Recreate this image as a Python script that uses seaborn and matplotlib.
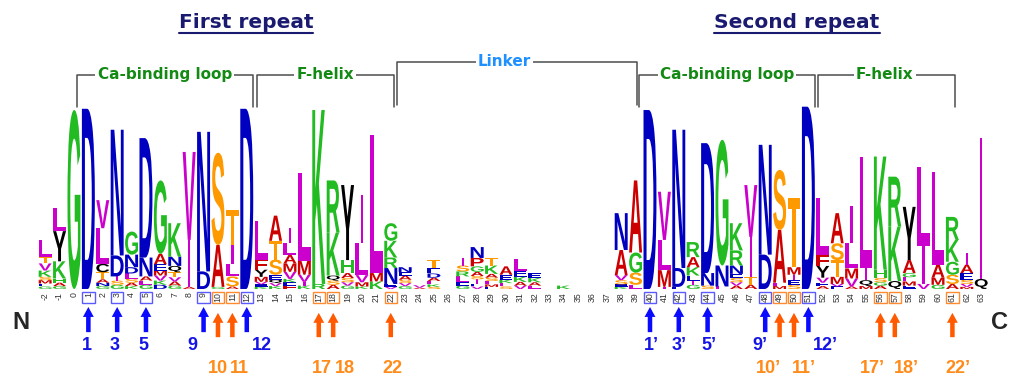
import matplotlib
matplotlib.use('Agg')
import matplotlib.pyplot as plt
import seaborn as sns
from matplotlib.textpath import TextPath
from matplotlib.patches import PathPatch, Rectangle
from matplotlib.font_manager import FontProperties
from matplotlib.transforms import Affine2D, IdentityTransform
from matplotlib.lines import Line2D

# sequence positions on the x axis
positions = list(range(-2, 64))

# letter stacks per position, top to bottom, heights in bits
first_stacks = [
    [('L', .40), ('T', .15), ('V', .17), ('K', .15), ('S', .08), ('M', .08), ('E', .07), ('G', .06)],
    [('L', .55), ('Y', .72), ('K', .41), ('H', .10), ('A', .08), ('G', .07)],
    [('G', 4.27)],
    [('D', 4.30)],
    [('V', .67), ('L', .85), ('C', .20), ('T', .17), ('A', .08), ('N', .08), ('G', .07)],
    [('N', 3.00), ('D', .50), ('I', .10), ('S', .10), ('G', .10)],
    [('G', .55), ('N', .30), ('D', .15), ('L', .12), ('S', .10), ('A', .08), ('K', .07)],
    [('D', 2.85), ('N', .45), ('A', .10), ('L', .10), ('G', .10)],
    [('G', 1.75), ('A', .25), ('E', .15), ('M', .12), ('V', .12), ('K', .10), ('D', .10)],
    [('K', .80), ('N', .22), ('Q', .15), ('T', .12), ('V', .10), ('A', .10), ('G', .08)],
    [('V', 2.10), ('I', 1.12), ('A', .05)],
    [('N', 3.33), ('D', .42)],
    [('S', 2.20), ('A', 1.00), ('G', .05)],
    [('T', .84), ('I', .45), ('L', .29), ('S', .24), ('A', .06)],
    [('D', 4.30)],
    [('L', .92), ('F', .24), ('Y', .17), ('M', .12), ('V', .06), ('E', .06), ('K', .05)],
    [('A', .60), ('T', .45), ('S', .36), ('E', .12), ('Q', .08), ('V', .07), ('K', .07)],
    [('I', .36), ('L', .28), ('A', .20), ('M', .20), ('V', .17), ('K', .08), ('E', .08), ('F', .08)],
    [('L', 2.10), ('M', .33), ('V', .17), ('I', .09), ('K', .08)],
    [('K', 4.15), ('R', .12)],
    [('R', 1.24), ('K', 1.03), ('Q', .12), ('S', .10), ('A', .10)],
    [('Y', 1.79), ('H', .31), ('A', .12), ('S', .10), ('V', .08), ('G', .08)],
    [('I', 1.15), ('L', .76), ('V', .17), ('M', .10), ('K', .06)],
    [('L', 3.30), ('M', .20), ('K', .18)],
    [('G', .42), ('K', .40), ('R', .25), ('N', .38), ('E', .07), ('V', .05)],
]
linker_stacks = [
    [('N', .12), ('E', .08), ('A', .10), ('S', .08), ('V', .07), ('G', .07)],
    [('V', .06), ('A', .03)],
    [('T', .20), ('E', .12), ('D', .10), ('A', .08), ('L', .08), ('K', .06), ('S', .05)],
    [],
    [('I', .18), ('S', .14), ('R', .12), ('L', .14), ('E', .08), ('G', .08)],
    [('N', .26), ('P', .20), ('G', .13), ('A', .10), ('S', .08), ('I', .10), ('E', .07), ('V', .06)],
    [('T', .18), ('K', .20), ('A', .09), ('S', .08), ('L', .08), ('M', .06), ('E', .05)],
    [('A', .20), ('E', .12), ('K', .08), ('L', .08), ('S', .06)],
    [('L', .28), ('E', .14), ('K', .12), ('A', .09), ('V', .08)],
    [('E', .12), ('K', .10), ('A', .08), ('L', .08)],
    [],
    [('K', .08)],
    [], [], [],
    [('N', .88), ('A', .60), ('V', .12), ('S', .10), ('E', .06), ('K', .05)],
    [('A', 1.72), ('G', .48), ('S', .29), ('L', .10)],
]
second_stacks = [
    [('D', 4.27)],
    [('V', 1.15), ('L', .72), ('M', .40), ('I', .05)],
    [('N', 3.30), ('D', .45), ('E', .05)],
    [('R', .36), ('A', .24), ('K', .20), ('E', .12), ('I', .10), ('G', .10)],
    [('D', 3.10), ('N', .30), ('S', .08)],
    [('G', 3.00), ('N', .50), ('L', .06)],
    [('K', .65), ('R', .36), ('N', .20), ('E', .10), ('S', .10), ('V', .08), ('A', .08)],
    [('V', 1.24), ('I', .95), ('T', .19), ('A', .10)],
    [('N', 2.62), ('D', .82)],
    [('S', 1.43), ('A', 1.26), ('L', .08), ('M', .07)],
    [('T', 1.65), ('M', .18), ('I', .12), ('E', .12), ('S', .10)],
    [('D', 4.35)],
    [('L', 1.36), ('F', .26), ('Y', .28), ('V', .12), ('E', .08), ('A', .07)],
    [('A', .72), ('S', .40), ('T', .40), ('M', .17), ('V', .06), ('E', .06)],
    [('I', .88), ('L', .60), ('M', .24), ('V', .19), ('A', .06)],
    [('L', 2.67), ('I', .28), ('Q', .14), ('M', .07)],
    [('K', 2.70), ('H', .20), ('S', .10), ('G', .08), ('A', .08)],
    [('R', 1.19), ('K', 1.30), ('Q', .19)],
    [('Y', 1.27), ('A', .31), ('G', .10), ('L', .10), ('M', .10), ('E', .08)],
    [('L', 1.90), ('I', .90), ('V', .12)],
    [('L', 2.22), ('A', .31), ('M', .17), ('G', .10)],
    [('R', .55), ('K', .52), ('G', .31), ('S', .22), ('A', .12)],
    [('I', .28), ('A', .20), ('E', .16), ('S', .10), ('V', .07), ('M', .05)],
    [('I', 3.36), ('Q', .24)],
]
stacks = first_stacks + linker_stacks + second_stacks

# highlighted residues
blue_sites = [1, 3, 5, 9, 12, 40, 42, 44, 48, 51]
blue_labels = ['1', '3', '5', '9', '12', '1\u2019', '3\u2019', '5\u2019', '9\u2019', '12\u2019']
orange_sites = [10, 11, 17, 18, 22, 49, 50, 56, 57, 61]
orange_labels = ['10', '11', '17', '18', '22', '10\u2019', '11\u2019', '17\u2019', '18\u2019', '22\u2019']

# annotated regions (position units)
region_names = ['Ca-binding loop', 'F-helix', 'Linker', 'Ca-binding loop', 'F-helix']
region_start = [0.2, 12.7, 22.45, 39.25, 51.7]
region_end = [12.45, 22.2, 39.1, 51.45, 61.2]
region_label_x = [6.3, 17.45, 29.9, 45.35, 56.3]

colors = {}
for aa in 'GKRH':
    colors[aa] = '#22bb22'
for aa in 'DNE':
    colors[aa] = '#0000c0'
for aa in 'LVI':
    colors[aa] = '#cc00cc'
for aa in 'AFMPW':
    colors[aa] = '#cc0000'
for aa in 'ST':
    colors[aa] = '#ff9900'
for aa in 'YCQ':
    colors[aa] = '#000000'

sns.set_style('white')
plt.rcParams['font.family'] = ['Liberation Sans', 'DejaVu Sans']

fig = plt.figure(figsize=(10.15, 3.82), dpi=100)
ax = fig.add_axes([0.0374, 0.2435, 0.9364, 0.4827])
ax.set_xlim(-2.5, 63.5)
ax.set_ylim(0, 4.4)

logo_font = FontProperties(family='Liberation Sans', weight='bold')
glyphs = {}


def draw_letter(letter, x, y0, h):
    if letter not in glyphs:
        glyphs[letter] = TextPath((0, 0), letter, size=1, prop=logo_font)
    path = glyphs[letter]
    ext = path.get_extents()
    w = 0.16 if letter == 'I' else 0.9
    tr = (Affine2D().translate(-ext.x0, -ext.y0)
          .scale(w / ext.width, h / ext.height)
          .translate(x - w / 2, y0))
    ax.add_patch(PathPatch(tr.transform_path(path), fc=colors[letter], ec='none', lw=0))


for p, stack in zip(positions, stacks):
    y = 0
    for letter, h in reversed(stack):
        draw_letter(letter, p, y, h)
        y += h

ax.set_xticks(positions)
ax.set_xticklabels([str(p) for p in positions], rotation=90, fontsize=6.3, color='#333333')
ax.tick_params(axis='x', length=0, pad=2.2)
ax.set_yticks([])
sns.despine(ax=ax, left=True, bottom=True)

# boxes, arrows and numbers under the key residues
blue, orange = '#0a0aff', '#ff5a00'
num_blue, num_orange = '#1414e6', '#ff8c1a'
blue_off = [-0.1, -0.15, -0.15, -0.75, 1.05, 0.1, 0.05, 0.1, -0.35, 1.2]
orange_off = [0.0, 0.5, 0.2, 0.8, 0.1, -0.8, 0.7, -0.55, 0.8, 0.4]

for sites, labels, offs, c_box, c_arrow, c_num, y_tip, y_tail, y_num in [
        (blue_sites, blue_labels, blue_off, '#5a5aff', blue, num_blue, -0.43, -1.03, -1.36),
        (orange_sites, orange_labels, orange_off, '#ff8a30', orange, num_orange, -0.57, -1.15, -1.9)]:
    for p, lab, off in zip(sites, labels, offs):
        ax.add_patch(Rectangle((p - 0.43, -0.335), 0.86, 0.26, fill=False, ec=c_box, lw=1, clip_on=False))
        ax.annotate('', xy=(p, y_tip), xytext=(p, y_tail),
                    arrowprops=dict(arrowstyle='simple,head_length=0.55,head_width=0.6,tail_width=0.25',
                                    mutation_scale=13, fc=c_arrow, ec='none', shrinkA=0, shrinkB=0),
                    annotation_clip=False)
        ax.text(p + off, y_num, lab, ha='center', va='center', fontsize=13, fontweight='bold',
                color=c_num, clip_on=False)

ax.text(-3.68, -0.81, 'N', ha='center', va='center', fontsize=17, fontweight='bold', clip_on=False)
ax.text(64.3, -0.79, 'C', ha='center', va='center', fontsize=17, fontweight='bold', clip_on=False)

# region brackets
for name, s, e, xl in zip(region_names, region_start, region_end, region_label_x):
    linker = name == 'Linker'
    y_top = 5.42 if linker else 5.11
    y_bot = 4.39 if linker else 4.34
    ax.plot([s, s, e, e], [y_bot, y_top, y_top, y_bot], color='#4d4d4d', lw=1.1, clip_on=False)
    ax.text(xl, y_top, name, ha='center', va='center', fontsize=11, fontweight='bold',
            family='DejaVu Sans', color='#1e90ff' if linker else '#138a13',
            bbox=dict(fc='white', ec='none', pad=1.5), clip_on=False)

titles = []
for xt, label in [(11.94, 'First repeat'), (50.2, 'Second repeat')]:
    titles.append(ax.text(xt, 6.37, label, ha='center', va='center', fontsize=14.5,
                          fontweight='bold', family='DejaVu Sans', color='#1a1a70', clip_on=False))

fig.canvas.draw()
renderer = fig.canvas.get_renderer()
for t in titles:
    bb = t.get_window_extent(renderer)
    fig.add_artist(Line2D([bb.x0, bb.x1], [bb.y0 - 1, bb.y0 - 1], transform=IdentityTransform(),
                          color='#1a1a70', lw=1.5))

fig.savefig('out.png', dpi=100)
